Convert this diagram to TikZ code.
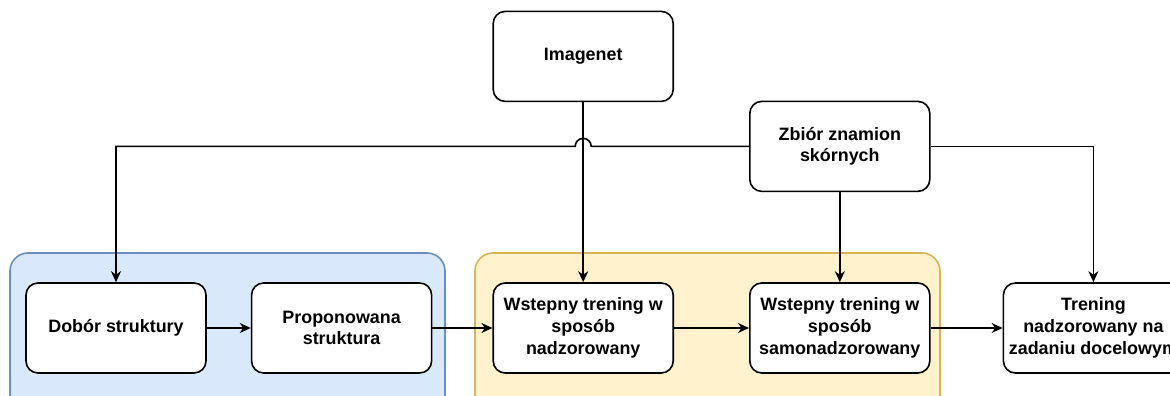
\documentclass[tikz,border=0pt]{standalone}
\usepackage{fontspec}
\setmainfont{Liberation Sans}
\usepackage{xcolor}
\definecolor{lightblue}{HTML}{DAE8FC}
\definecolor{blueborder}{HTML}{6C8EBF}
\definecolor{lightyellow}{HTML}{FFF2CC}
\definecolor{yellowborder}{HTML}{D6B656}
\usetikzlibrary{positioning,calc,arrows.meta}

\begin{document}
\begin{tikzpicture}[x=1pt, y=1pt, ->, >={Stealth[length=11pt,width=10pt,inset=3.5pt]}, line width=1.6pt, node distance=90pt and 60pt, main/.style = {rectangle, rounded corners=12pt, draw, fill=white, minimum width=180pt, minimum height=90pt, align=center, font=\bfseries\fontsize{17.9}{21.7}\selectfont}, group/.style={-, rounded corners=18pt}]

\useasboundingbox (0,0) rectangle (1170,396);

% tla grup
\draw[group, fill=lightblue, draw=blueborder] (10,-30) rectangle (445,143);
\draw[group, fill=lightyellow, draw=yellowborder] (475,-30) rectangle (940,143);

\node[main] (1) at (116,68) {Dobór struktury};
\node[main] (2) [right=44pt of 1] {Proponowana\\struktura};
\node[main] (3) [right=60pt of 2] {Wstepny trening w\\sposób\\nadzorowany};
\node[main] (4) [right=75pt of 3] {Wstepny trening w\\sposób\\samonadzorowany};
\node[main] (5) [right=72pt of 4] {Trening\\nadzorowany na\\zadaniu docelowym};
\node[main] (6) [above=180pt of 3] {Imagenet};
\node[main] (7) [above=90pt of 4] {Zbiór znamion\\skórnych};

\coordinate (j) at (6.south |- 7.west);

\path
    (1) edge (2)
    (2) edge (3)
    (3) edge (4)
    (4) edge (5)
    (6) edge (3)
    (7) edge (4);
\draw (7.west) -- ([xshift=8pt]j) arc[start angle=0, end angle=180, radius=8pt] -- (1.north |- 7.west) -- (1.north);
\draw (7.east) -| (5.north);
%\draw (6.south) -- (3.north);
\end{tikzpicture}
\end{document}
